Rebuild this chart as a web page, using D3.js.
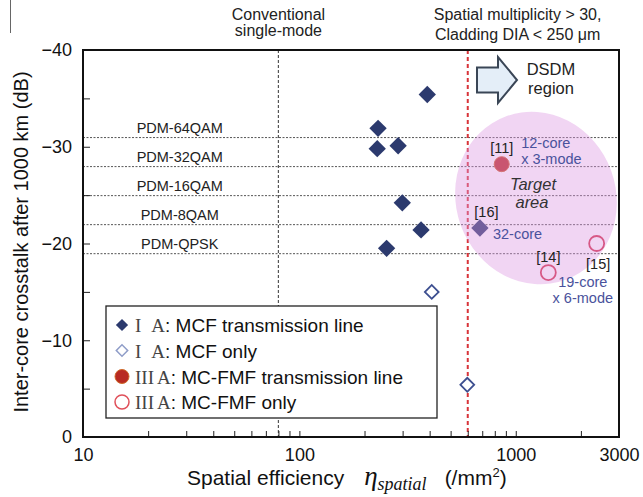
<!DOCTYPE html>
<html>
<head>
<meta charset="utf-8">
<script src="https://d3js.org/d3.v7.min.js"></script>
<style>
  body { margin: 0; background: #fff; }
  svg { display: block; font-family: Arial, "Liberation Sans", sans-serif; }
</style>
</head>
<body>
<svg id="chart" width="643" height="497"></svg>
<script>
// data
const mcfTxX = [390, 231, 229, 286, 299, 365, 253, 683];
const mcfTxY = [-35.4, -31.9, -29.8, -30.1, -24.2, -21.4, -19.5, -21.6];
const mcfOnlyX = [409, 597];
const mcfOnlyY = [-15.0, -5.4];
const fmfTxX = [861];
const fmfTxY = [-28.2];
const fmfOnlyX = [1414, 2365];
const fmfOnlyY = [-17.0, -20.0];

const formatNames = ["PDM-64QAM", "PDM-32QAM", "PDM-16QAM", "PDM-8QAM", "PDM-QPSK"];
const formatLimits = [-31, -28, -25, -22, -19];

const xTicks = [10, 20, 30, 40, 50, 60, 70, 80, 90, 100, 200, 300, 400, 500, 600, 700, 800, 900, 1000, 2000, 3000];
const xTickLabels = [10, 100, 1000, 3000];
const yTicks = [0, -5, -10, -15, -20, -25, -30, -35, -40];
const yTickLabels = [0, -10, -20, -30, -40];

const conventionalX = 80;
const dsdmX = 600;

const legendNames = ["MCF transmission line", "MCF only", "MC-FMF transmission line", "MC-FMF only"];
const legendRoman = ["I", "I", "III", "III"];

const svg = d3.select("#chart");
const x = d3.scaleLog().domain([10, 3000]).range([83, 619]);
const y = d3.scaleLinear().domain([0, -40]).range([437, 50]);

const serif = "'Times New Roman', 'Liberation Serif', serif";
const navy = "#2c3a6e";

// little border artifact at top left
svg.append("line").attr("x1", 10.5).attr("x2", 10.5).attr("y1", 0).attr("y2", 33)
  .attr("stroke", "#666").attr("stroke-width", 1);

// modulation format limits
svg.append("g").selectAll("line").data(formatLimits).join("line")
  .attr("x1", x(10)).attr("x2", x(3000))
  .attr("y1", d => y(d) + 0.5).attr("y2", d => y(d) + 0.5)
  .attr("stroke", "#555").attr("stroke-width", 1).attr("stroke-dasharray", "2,1.5");

svg.append("g").selectAll("text").data(formatNames).join("text")
  .attr("x", x(28)).attr("y", (d, i) => y(formatLimits[i]) - 4.5)
  .attr("text-anchor", "middle").attr("font-size", 14.5).attr("fill", "#222")
  .text(d => d);

// conventional single-mode line
svg.append("line").attr("x1", x(conventionalX)).attr("x2", x(conventionalX))
  .attr("y1", y(-40)).attr("y2", y(0))
  .attr("stroke", "#555").attr("stroke-width", 1.2).attr("stroke-dasharray", "3,2");

// DSDM boundary
svg.append("line").attr("x1", x(dsdmX)).attr("x2", x(dsdmX))
  .attr("y1", y(-40)).attr("y2", y(0))
  .attr("stroke", "#d8343a").attr("stroke-width", 2).attr("stroke-dasharray", "4,3");

// axes
const xAxis = d3.axisBottom(x).tickValues(xTicks).tickSize(-6).tickSizeOuter(0).tickPadding(11)
  .tickFormat(d => xTickLabels.includes(d) ? d : "");
const gx = svg.append("g").attr("transform", `translate(0,${y(0)})`).call(xAxis);
gx.select(".domain").remove();
gx.selectAll("line").attr("stroke", "#222");
gx.selectAll("text").attr("font-size", 18).attr("fill", "#111").attr("font-family", null);

const yAxis = d3.axisLeft(y).tickValues(yTicks).tickSize(-7).tickSizeOuter(0).tickPadding(11)
  .tickFormat(d => yTickLabels.includes(d) ? (d < 0 ? "\u2212" + Math.abs(d) : d) : "");
const gy = svg.append("g").attr("transform", `translate(${x(10)},0)`).call(yAxis);
gy.select(".domain").remove();
gy.selectAll("line").attr("stroke", "#222");
gy.selectAll("text").attr("font-size", 18).attr("fill", "#111").attr("font-family", null);

// frame
svg.append("rect").attr("x", x(10)).attr("y", y(-40))
  .attr("width", x(3000) - x(10)).attr("height", y(0) - y(-40))
  .attr("fill", "none").attr("stroke", "#111").attr("stroke-width", 2);

// points
const diamond = d3.symbol().type(d3.symbolSquare);
svg.append("g").selectAll("path").data(mcfTxX).join("path")
  .attr("d", diamond.size(150)())
  .attr("transform", (d, i) => `translate(${x(d)},${y(mcfTxY[i])}) rotate(45)`)
  .attr("fill", navy);

svg.append("g").selectAll("path").data(mcfOnlyX).join("path")
  .attr("d", diamond.size(95)())
  .attr("transform", (d, i) => `translate(${x(d)},${y(mcfOnlyY[i])}) rotate(45)`)
  .attr("fill", "#fff").attr("stroke", "#3d4f90").attr("stroke-width", 1.8);

svg.append("g").selectAll("circle").data(fmfTxX).join("circle")
  .attr("cx", d => x(d)).attr("cy", (d, i) => y(fmfTxY[i])).attr("r", 7.5)
  .attr("fill", "#bd2a26").attr("stroke", "#d0602e").attr("stroke-width", 1);

svg.append("g").selectAll("circle").data(fmfOnlyX).join("circle")
  .attr("cx", d => x(d)).attr("cy", (d, i) => y(fmfOnlyY[i])).attr("r", 7.5)
  .attr("fill", "none").attr("stroke", "#d4304a").attr("stroke-width", 1.8);

// target area
const tx = x(1240), ty = y(-24.7);
svg.append("ellipse").attr("cx", tx).attr("cy", ty).attr("rx", 80).attr("ry", 87)
  .attr("transform", `rotate(-20,${tx},${ty})`)
  .attr("fill", "rgb(220,150,225)").attr("opacity", 0.4);
svg.append("text").attr("x", tx - 3).attr("y", ty - 8.5).attr("text-anchor", "middle")
  .attr("font-size", 16.5).attr("font-style", "italic").attr("fill", "#333").text("Target");
svg.append("text").attr("x", tx - 4).attr("y", ty + 9.5).attr("text-anchor", "middle")
  .attr("font-size", 16.5).attr("font-style", "italic").attr("fill", "#333").text("area");

// point notes
const note = (px, py, str, anchor, col) => svg.append("text").attr("x", px).attr("y", py)
  .attr("text-anchor", anchor).attr("font-size", 14.5).attr("fill", col).text(str);
const blue = "#4a529c";
const p11 = [x(fmfTxX[0]), y(fmfTxY[0])];
note(p11[0], p11[1] - 11, "[11]", "middle", "#222");
note(p11[0] + 19.5, p11[1] - 16.5, "12-core", "start", blue);
note(p11[0] + 19.5, p11[1] - 0.5, "x 3-mode", "start", blue);
const p16 = [x(mcfTxX[7]), y(mcfTxY[7])];
note(p16[0] + 6.5, p16[1] - 11, "[16]", "middle", "#222");
note(p16[0] + 13, p16[1] + 10.5, "32-core", "start", blue);
const p14 = [x(fmfOnlyX[0]), y(fmfOnlyY[0])];
note(p14[0], p14[1] - 10.5, "[14]", "middle", "#222");
note(p14[0] + 34.5, p14[1] + 14, "19-core", "middle", blue);
note(p14[0] + 34.5, p14[1] + 30, "x 6-mode", "middle", blue);
const p15 = [x(fmfOnlyX[1]), y(fmfOnlyY[1])];
note(p15[0] + 1.5, p15[1] + 25.5, "[15]", "middle", "#222");

// DSDM arrow
const ax = x(662), ay = y(-36.9);
svg.append("path")
  .attr("d", `M${ax},${ay - 12.5} H${ax + 21} V${ay - 23} L${ax + 40},${ay} L${ax + 21},${ay + 23} V${ay + 12.5} H${ax} Z`)
  .attr("fill", "#e4eef8").attr("stroke", "#3a4656").attr("stroke-width", 2).attr("stroke-linejoin", "miter");
svg.append("text").attr("x", ax + 74).attr("y", ay - 4.5).attr("text-anchor", "middle")
  .attr("font-size", 16.5).attr("fill", "#222").text("DSDM");
svg.append("text").attr("x", ax + 74).attr("y", ay + 14.5).attr("text-anchor", "middle")
  .attr("font-size", 16.5).attr("fill", "#222").text("region");

// top notes
svg.append("text").attr("x", x(conventionalX)).attr("y", 20).attr("text-anchor", "middle")
  .attr("font-size", 16).attr("fill", "#222").text("Conventional");
svg.append("text").attr("x", x(conventionalX)).attr("y", 36).attr("text-anchor", "middle")
  .attr("font-size", 16).attr("fill", "#222").text("single-mode");
svg.append("text").attr("x", x(1020)).attr("y", 20).attr("text-anchor", "middle")
  .attr("font-size", 16).attr("fill", "#222").text("Spatial multiplicity > 30,");
svg.append("text").attr("x", x(1020)).attr("y", 40).attr("text-anchor", "middle")
  .attr("font-size", 16).attr("fill", "#222").text("Cladding DIA < 250 \u03bcm");

// legend
const lg = svg.append("g");
lg.append("rect").attr("x", 106).attr("y", 306).attr("width", 331).attr("height", 112)
  .attr("fill", "#fff").attr("stroke", "#222").attr("stroke-width", 1.3);
const rowY = [325, 350.5, 376.5, 402];
const sx = 122;
lg.append("path").attr("d", diamond.size(75)()).attr("transform", `translate(${sx},${rowY[0]}) rotate(45)`)
  .attr("fill", navy);
lg.append("path").attr("d", diamond.size(65)()).attr("transform", `translate(${sx},${rowY[1]}) rotate(45)`)
  .attr("fill", "#fff").attr("stroke", "#8f9dc8").attr("stroke-width", 1.5);
lg.append("circle").attr("cx", sx).attr("cy", rowY[2]).attr("r", 7)
  .attr("fill", "#b82a22").attr("stroke", "#cf6a2a").attr("stroke-width", 1);
lg.append("circle").attr("cx", sx).attr("cy", rowY[3]).attr("r", 7)
  .attr("fill", "none").attr("stroke", "#e0505a").attr("stroke-width", 1.5);

legendNames.forEach((name, i) => {
  const t = lg.append("text").attr("x", 135).attr("y", rowY[i] + 7).attr("font-size", 19).attr("fill", "#111");
  t.append("tspan").attr("font-family", serif).attr("fill", "#444").text(legendRoman[i]);
  t.append("tspan").attr("font-family", serif).attr("fill", "#444").attr("dx", legendRoman[i] === "I" ? 10 : 3).text("A");
  t.append("tspan").text(": " + name);
});

// axis titles
svg.append("text").attr("transform", "translate(28,242) rotate(-90)").attr("text-anchor", "middle")
  .attr("font-size", 20).attr("fill", "#111").text("Inter-core crosstalk after 1000 km (dB)");

const xt = svg.append("text").attr("x", 187).attr("y", 485).attr("font-size", 21).attr("fill", "#111");
xt.append("tspan").text("Spatial efficiency");
xt.append("tspan").attr("dx", 20).attr("font-family", serif).attr("font-style", "italic").attr("font-size", 27).text("\u03b7");
xt.append("tspan").attr("font-family", serif).attr("font-style", "italic").attr("font-size", 18).attr("dy", 5).text("spatial");
xt.append("tspan").attr("dx", 18).attr("dy", -5).text("(/mm");
xt.append("tspan").attr("font-size", 13).attr("dy", -8).text("2");
xt.append("tspan").attr("dy", 8).text(")");
</script>
</body>
</html>
